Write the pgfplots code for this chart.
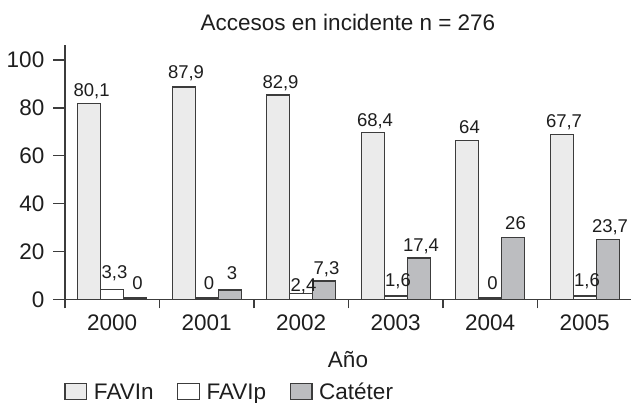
\documentclass[border=0pt]{standalone}
\usepackage{pgfplots}
\usepackage{pgfplotstable}
\pgfplotsset{compat=1.18}
\usepackage{fontspec}
\setmainfont{Liberation Sans}
\definecolor{favin}{HTML}{EBEBEB}
\definecolor{cat}{HTML}{BCBDC0}
\definecolor{edge}{HTML}{3C3C3C}
\definecolor{txt}{HTML}{1E1E1E}

\pgfplotstableread{
x y
0 81.9
1 88.8
2 85.4
3 69.6
4 66.4
5 68.8
}\favin
\pgfplotstableread{
x y
0 4.2
1 0.5
2 2.5
3 1.4
4 0.5
5 1.4
}\favip
\pgfplotstableread{
x y
0 0.5
1 3.9
2 7.6
3 17.3
4 25.7
5 25.1
}\cat
\pgfplotstableread{
x y label
0 84.7 80,1
1 92.4 87,9
2 88.2 82,9
3 72.1 68,4
4 69.4 64
5 71.9 67,7
}\labfavin
\pgfplotstableread{
x y label
0 8.8 3,3
1 4.2 0
2 3.2 2,4
3 5.3 1,6
4 4.2 0
5 5.3 1,6
}\labfavip
\pgfplotstableread{
x y label
0 4.2 0
1 8.4 3
2 10.4 7,3
3 19.8 17,4
4 29.0 26
5 27.8 23,7
}\labcat

\begin{document}
\begin{tikzpicture}
\useasboundingbox (-65bp,-103.7bp) rectangle (566bp,299.3bp);
\begin{axis}[
  at={(0,0)}, anchor=south west,
  scale only axis, width=566bp, height=254.3bp,
  xmin=-0.5, xmax=5.49, ymin=0, ymax=106.3,
  axis x line=bottom, axis y line=left,
  axis line style={draw=edge, line width=1.2bp, -},
  xtick={0,...,5}, xticklabels={2000,2001,2002,2003,2004,2005},
  minor xtick={-0.5,0.5,1.5,2.5,3.5,4.5},
  major x tick style={draw=none},
  ytick={0,20,...,100},
  tick align=outside,
  major tick length=11.7bp, minor tick length=9bp,
  tick style={draw=edge, line width=1.2bp},
  /pgf/number format/assume math mode=true,
  tick label style={font=\fontsize{22.5bp}{27bp}\selectfont, text=txt},
  yticklabel style={xshift=-5.5bp},
  title={Accesos en incidente n = 276},
  every axis title/.style={at={(axis description cs:0.5,1)}, anchor=base, yshift=14.3bp,
     font=\fontsize{22.5bp}{27bp}\selectfont, text=txt, inner sep=0pt},
  xlabel={Año},
  every axis x label/.style={at={(axis description cs:0.5,0)}, anchor=base, yshift=-68bp,
     font=\fontsize{22.5bp}{27bp}\selectfont, text=txt, inner sep=0pt},
  legend columns=-1,
  legend cell align=left,
  legend image code/.code={\draw[#1] (0bp,-0.5bp) rectangle (21.7bp,15.5bp);},
  legend style={draw=none, fill=none, inner sep=0pt, inner xsep=0pt, inner ysep=0pt,
     at={(axis description cs:0,0)}, anchor=north west, xshift=-0.7bp, yshift=-83.2bp,
     nodes={inner sep=0pt, text height=16.5bp, text depth=2bp},
     cells={anchor=base west},
     font=\fontsize{22.5bp}{27bp}\selectfont, text=txt,
     /tikz/every odd column/.style={column sep=6.5bp},
     /tikz/every even column/.style={column sep=23.5bp}},
  every node near coord/.append style={anchor=base, inner sep=0pt,
     font=\fontsize{18.5bp}{20bp}\selectfont, text=txt},
]
\addplot[ybar, bar width=23bp, bar shift=-23bp, fill=favin, draw=edge, line width=1.3bp] table[x=x,y=y] {\favin};
\addplot[ybar, bar width=23bp, bar shift=0bp, fill=white, draw=edge, line width=1.3bp] table[x=x,y=y] {\favip};
\addplot[ybar, bar width=23bp, bar shift=23bp, fill=cat, draw=edge, line width=1.3bp] table[x=x,y=y] {\cat};
\legend{FAVIn,FAVIp,Catéter}
\addplot[forget plot, only marks, mark=none, draw=none, nodes near coords, point meta=explicit symbolic,
  every node near coord/.append style={xshift=-20.7bp}] table[x=x,y=y,meta=label] {\labfavin};
\addplot[forget plot, only marks, mark=none, draw=none, nodes near coords, point meta=explicit symbolic,
  every node near coord/.append style={xshift=2.3bp}] table[x=x,y=y,meta=label] {\labfavip};
\addplot[forget plot, only marks, mark=none, draw=none, nodes near coords, point meta=explicit symbolic,
  every node near coord/.append style={xshift=25.3bp}] table[x=x,y=y,meta=label] {\labcat};
\end{axis}
\end{tikzpicture}
\end{document}
